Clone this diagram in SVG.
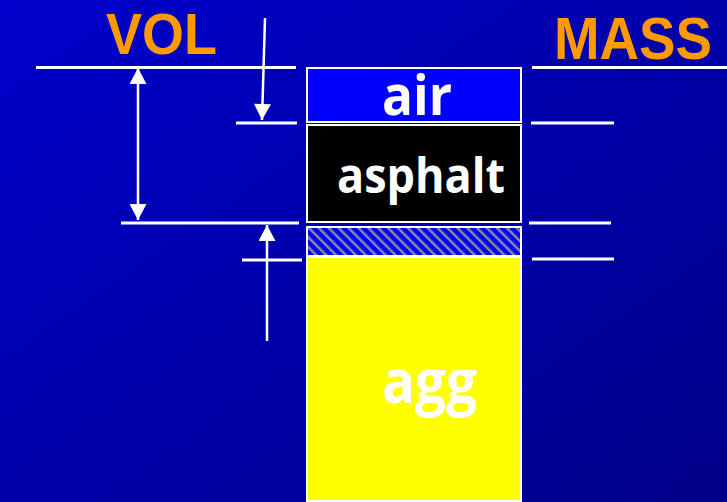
<svg xmlns="http://www.w3.org/2000/svg" width="727" height="502" viewBox="0 0 727 502">
<style>
.lbl{font-family:"Liberation Sans","Open Sans",sans-serif;font-weight:bold;fill:#FF9900}
.in{font-family:"Open Sans","Liberation Sans",sans-serif;font-weight:bold;fill:#FFFFFF}
.ln{stroke:#FFFFFF;stroke-width:3;fill:none}
.ar{stroke:#FFFFFF;stroke-width:2.5;fill:none}
.box{stroke:#FFFFFF;stroke-width:2}
</style>
<defs>
<linearGradient id="bg" x1="0" y1="0" x2="1" y2="1">
<stop offset="0" stop-color="#0000CC"/>
<stop offset="1" stop-color="#000088"/>
</linearGradient>
<pattern id="hatch" patternUnits="userSpaceOnUse" width="7" height="7" patternTransform="rotate(-45)">
<rect width="7" height="7" fill="#0000FF"/>
<rect x="0" y="0" width="2.5" height="7" fill="#8A8A9A"/>
</pattern>
<marker id="ah" markerUnits="userSpaceOnUse" markerWidth="17" markerHeight="17" viewBox="0 0 16 17" refX="16" refY="8.5" orient="auto-start-reverse">
<path d="M0,0 L16,8.5 L0,17 z" fill="#FFFFFF"/>
</marker>
</defs>
<rect width="727" height="502" fill="url(#bg)"/>
<g id="title-vol"><text class="lbl" x="106" y="54" font-size="58" textLength="111" lengthAdjust="spacingAndGlyphs">VOL</text></g>
<g id="title-mass"><text class="lbl" x="554" y="59" font-size="60" textLength="158" lengthAdjust="spacingAndGlyphs">MASS</text></g>
<g id="air">
<rect class="box" x="307" y="68" width="214" height="54" fill="#0000FF"/>
<text class="in" x="382" y="115" font-size="56" textLength="70" lengthAdjust="spacingAndGlyphs">air</text>
</g>
<g id="asphalt">
<rect class="box" x="307" y="125" width="214" height="97" fill="#000000"/>
<text class="in" x="337" y="193" font-size="49" textLength="168" lengthAdjust="spacingAndGlyphs">asphalt</text>
</g>
<g id="hatch-layer">
<rect class="box" x="307" y="227" width="214" height="29" fill="url(#hatch)"/>
</g>
<g id="agg">
<rect class="box" x="307" y="257" width="214" height="244" fill="#FFFF00"/>
<text class="in" x="382" y="403" font-size="60" textLength="95" lengthAdjust="spacingAndGlyphs">agg</text>
</g>
<g id="connectors">
<line class="ln" x1="36" y1="67.5" x2="296" y2="67.5"/>
<line class="ln" x1="236" y1="123" x2="297" y2="123"/>
<line class="ln" x1="121" y1="223" x2="299" y2="223"/>
<line class="ln" x1="242" y1="260" x2="302" y2="260"/>
<line class="ln" x1="532" y1="67.5" x2="727" y2="67.5"/>
<line class="ln" x1="531" y1="123" x2="614" y2="123"/>
<line class="ln" x1="529" y1="223" x2="611" y2="223"/>
<line class="ln" x1="532" y1="259" x2="614" y2="259"/>
<line class="ar" x1="265" y1="18" x2="262" y2="120" marker-end="url(#ah)"/>
<line class="ar" x1="138" y1="68" x2="138" y2="220" marker-start="url(#ah)" marker-end="url(#ah)"/>
<line class="ar" x1="267" y1="341" x2="267" y2="225" marker-end="url(#ah)"/>
</g>
</svg>
